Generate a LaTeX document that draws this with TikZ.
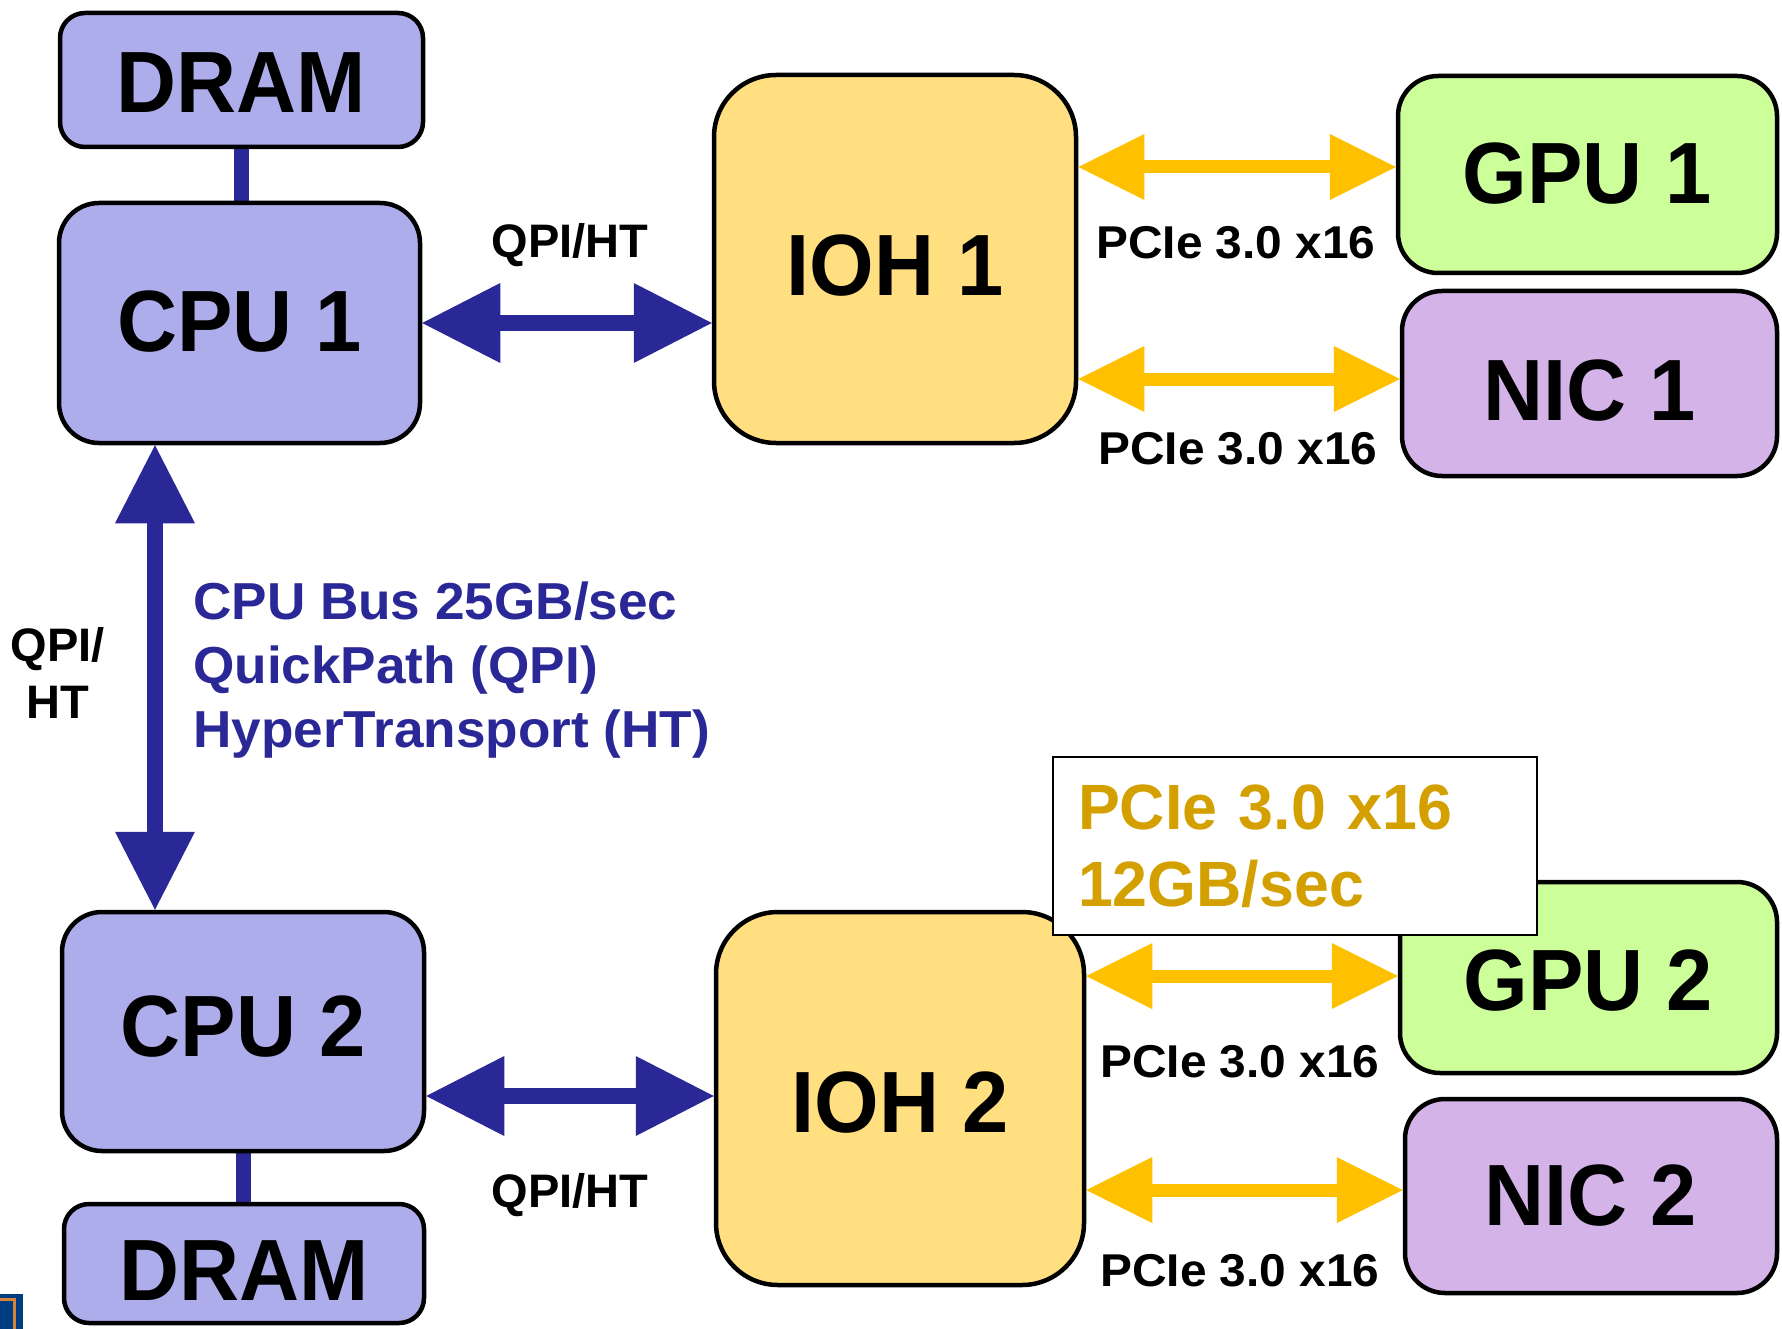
\documentclass[tikz,border=0pt]{standalone}
\usepackage{fontspec}
\setmainfont{Liberation Sans}
\newfontfamily\bigfam{Liberation Sans}[FakeStretch=0.955]
\newfontfamily\widefam{Liberation Sans}[FakeStretch=1.04]
\newfontfamily\busfam{Liberation Sans}[FakeStretch=1.022]
\newfontfamily\notefam{Liberation Sans}[FakeStretch=0.98]
\usetikzlibrary{arrows.meta,backgrounds}
\definecolor{cpufill}{HTML}{AEADEB}
\definecolor{iohfill}{HTML}{FFDF80}
\definecolor{gpufill}{HTML}{CCFF99}
\definecolor{nicfill}{HTML}{D4B4E8}
\definecolor{busblue}{HTML}{2A2896}
\definecolor{pcigold}{HTML}{FFC000}
\definecolor{goldtext}{HTML}{D4A000}
\definecolor{logoblue}{HTML}{003C82}
\definecolor{logoorange}{HTML}{D8823A}
\begin{document}
\begin{tikzpicture}[x=1pt,y=-1pt,
  chip/.style={draw=black, line width=4.5pt, rounded corners=#1, inner sep=0pt,
    font=\bigfam\bfseries\fontsize{87}{87}\selectfont},
  cpubox/.style={chip=40pt, fill=cpufill},
  drambox/.style={chip=25pt, fill=cpufill},
  iohbox/.style={chip=62pt, fill=iohfill},
  gpubox/.style={chip=40pt, fill=gpufill},
  nicbox/.style={chip=40pt, fill=nicfill},
  bluearr/.style={draw=busblue, line width=16pt,
    {Triangle[length=78pt,width=80pt,line width=0pt]}-{Triangle[length=78pt,width=80pt,line width=0pt]}},
  goldarr/.style={draw=pcigold, line width=13pt,
    {Triangle[length=66pt,width=66pt,line width=0pt]}-{Triangle[length=66pt,width=66pt,line width=0pt]}},
  memlink/.style={draw=busblue, line width=15pt},
  smalllbl/.style={inner sep=0pt, font=\bfseries\fontsize{47}{57}\selectfont},
  pcilbl/.style={inner sep=0pt, anchor=base, font=\widefam\bfseries\fontsize{46}{46}\selectfont},
]
\useasboundingbox (0,0) rectangle (1782,1329);

% logo fragment
\fill[logoblue] (0,1294) rectangle (23,1329);
\draw[logoorange, line width=2.5pt] (0,1299.5) -- (14.5,1299.5) -- (14.5,1329);

% boxes
\node[drambox, minimum width=363pt, minimum height=134pt, text height=66pt, text depth=0pt] (dram1) at (241.5,80) {DRAM};
\node[cpubox, minimum width=361pt, minimum height=240pt, text height=62pt, text depth=4pt] (cpu1) at (239.5,323) {CPU 1};
\node[iohbox, minimum width=362pt, minimum height=368pt, text height=74pt, text depth=0pt] (ioh1) at (895,259) {IOH 1};
\node[gpubox, minimum width=379pt, minimum height=197pt, text height=62pt, text depth=3pt] (gpu1) at (1587.5,174.5) {GPU 1};
\node[nicbox, minimum width=375pt, minimum height=185pt, text height=73pt, text depth=0pt] (nic1) at (1589.5,383.5) {NIC 1};

\node[cpubox, minimum width=362pt, minimum height=239pt, text height=62pt, text depth=13pt] (cpu2) at (243,1031.5) {CPU 2};
\node[iohbox, minimum width=368pt, minimum height=373pt, text height=67pt, text depth=0pt] (ioh2) at (900,1098.5) {IOH 2};
\node[gpubox, minimum width=377pt, minimum height=191pt, text height=65pt, text depth=0pt] (gpu2) at (1588.5,977.5) {GPU 2};
\node[nicbox, minimum width=372pt, minimum height=194pt] (nic2) at (1591,1196) {NIC 2};
\node[drambox, minimum width=360pt, minimum height=119pt, text height=73pt, text depth=0pt] (dram2) at (244,1263.5) {DRAM};

% memory links
\begin{pgfonlayer}{background}
\draw[memlink] (dram1.south) -- (dram1.south |- cpu1.north);
\draw[memlink] (cpu2.south) -- (cpu2.south |- dram2.north);
\end{pgfonlayer}

% QPI/HT links
\coordinate (h1) at (0,323);
\coordinate (h2) at (0,1096);
\coordinate (vx) at (155,0);
\draw[bluearr] (h1 -| cpu1.east) -- (h1 -| ioh1.west);
\draw[bluearr] (h2 -| cpu2.east) -- (h2 -| ioh2.west);
\draw[bluearr] (vx |- cpu1.south) -- (vx |- cpu2.north);

% PCIe links
\coordinate (g1) at (0,167);
\coordinate (n1) at (0,379);
\coordinate (g2) at (0,976);
\coordinate (n2) at (0,1190);
\draw[goldarr] (g1 -| ioh1.east) -- (g1 -| gpu1.west);
\draw[goldarr] (n1 -| ioh1.east) -- (n1 -| nic1.west);
\draw[goldarr] (g2 -| ioh2.east) -- (g2 -| gpu2.west);
\draw[goldarr] (n2 -| ioh2.east) -- (n2 -| nic2.west);

% labels
\node[smalllbl, anchor=base] (qpi1) at (570,258) {QPI/HT};
\node[smalllbl, anchor=base] (qpi2) at (570,1207) {QPI/HT};
\node[smalllbl, anchor=north, align=center] (qpiv) at (58,627) {QPI/\\HT};
\node[inner sep=0pt, anchor=north west, align=left, text=busblue,
  font=\busfam\bfseries\fontsize{52}{64}\selectfont] (busnote) at (193,582)
  {CPU Bus 25GB/sec\\QuickPath (QPI)\\HyperTransport (HT)};

\node[pcilbl] (p1) at (1236,259) {PCIe 3.0 x16};
\node[pcilbl] (p2) at (1238,464) {PCIe 3.0 x16};
\node[pcilbl] (p3) at (1240,1077) {PCIe 3.0 x16};
\node[pcilbl] (p4) at (1240,1286) {PCIe 3.0 x16};

\node[draw=black, line width=2pt, fill=white, inner xsep=25pt, inner ysep=0pt,
  text width=434pt, minimum height=178pt, align=left, text=goldtext,
  font=\notefam\bfseries\fontsize{64}{77}\selectfont] (pcinote) at (1295,846)
  {PCIe 3.0 x16\\12GB/sec};
\end{tikzpicture}
\end{document}
